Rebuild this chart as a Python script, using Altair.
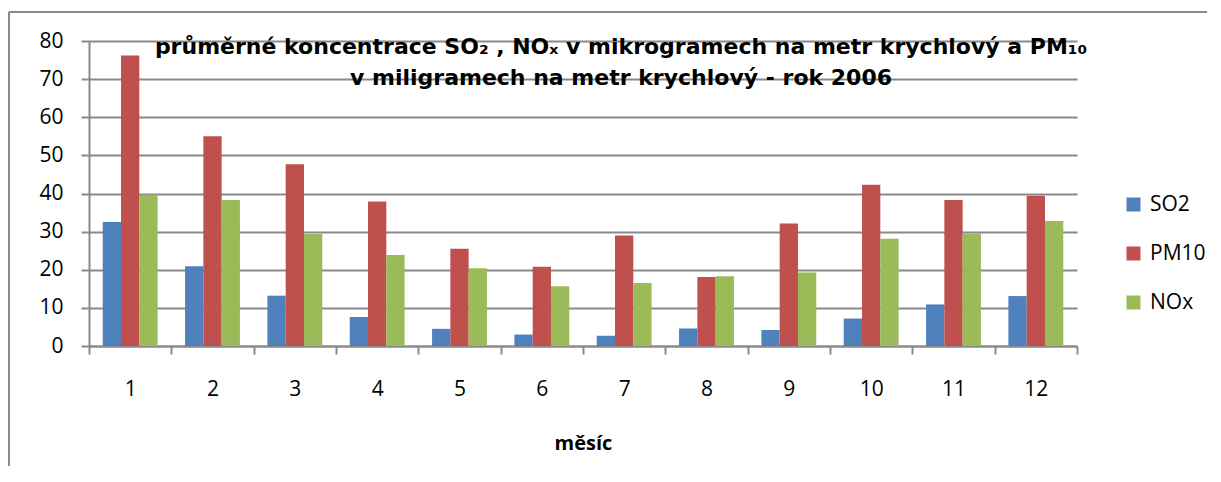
import altair as alt
import pandas as pd

months = [str(m) for m in range(1, 13)]
series = ["SO2", "PM10", "NOx"]
so2 = [32.5, 20.9, 13.2, 7.6, 4.5, 3.0, 2.7, 4.6, 4.2, 7.2, 10.9, 13.1]
pm10 = [76.2, 55.0, 47.7, 37.9, 25.5, 20.8, 29.0, 18.1, 32.1, 42.3, 38.3, 39.4]
nox = [39.7, 38.3, 29.4, 23.9, 20.4, 15.7, 16.5, 18.3, 19.3, 28.1, 29.5, 32.8]
colors = ["#4F81BD", "#C0504D", "#9BBB59"]
y_ticks = [0, 10, 20, 30, 40, 50, 60, 70, 80]
title_lines = "průměrné koncentrace SO₂ , NOₓ v mikrogramech na metr krychlový a PM₁₀\nv miligramech na metr krychlový - rok 2006"
x_title = "měsíc"

rows = []
for name, vals in zip(series, [so2, pm10, nox]):
    for m, v in zip(months, vals):
        rows.append({"mesic": m, "serie": name, "hodnota": v})
df = pd.DataFrame(rows)

GRAY = "#8a8a8a"
LABEL_FONT = "Open Sans"

bars = alt.Chart(df).mark_bar().encode(
    x=alt.X("mesic:N", sort=months,
            scale=alt.Scale(paddingInner=0, paddingOuter=0),
            axis=alt.Axis(title=x_title, labelAngle=0, tickBand="extent",
                          tickSize=8, tickWidth=2, tickColor=GRAY,
                          domainColor=GRAY, domainWidth=2,
                          labelFont=LABEL_FONT, labelFontSize=21, labelColor="black",
                          labelPadding=24, titleFont=LABEL_FONT, titleFontSize=20,
                          titleFontWeight="bold", titleColor="black", titlePadding=34,
                          grid=False)),
    xOffset=alt.XOffset("serie:N", sort=series,
                        scale=alt.Scale(paddingInner=0, paddingOuter=0.75)),
    y=alt.Y("hodnota:Q", scale=alt.Scale(domain=[0, 80], nice=False),
            axis=alt.Axis(title=None, values=y_ticks, tickSize=8, tickWidth=2,
                          tickColor=GRAY, domainColor=GRAY, domainWidth=2,
                          gridColor=GRAY, gridWidth=1.8, grid=True,
                          labelFont=LABEL_FONT, labelFontSize=21, labelColor="black",
                          labelPadding=18)),
    color=alt.Color("serie:N", sort=series,
                    scale=alt.Scale(domain=series, range=colors),
                    legend=alt.Legend(title=None, orient="none", legendX=1034, legendY=153,
                                      symbolType="square", symbolSize=196,
                                      symbolStrokeWidth=0, labelFont=LABEL_FONT,
                                      labelFontSize=21, labelColor="black",
                                      labelOffset=6, rowPadding=27, padding=0)),
)

one = alt.Data(values=[{"f": 1}])
frame_top = alt.Chart(one).mark_rule(color=GRAY, strokeWidth=2).encode(
    x=alt.value(-80), x2=alt.value(1118), y=alt.value(-29)
)
frame_left = alt.Chart(one).mark_rule(color=GRAY, strokeWidth=2).encode(
    x=alt.value(-80), y=alt.value(-29), y2=alt.value(430)
)

title = alt.Chart(one).mark_text(
    font="DejaVu Sans", fontWeight="bold", fontSize=22, lineBreak="\n",
    lineHeight=31, align="center", baseline="alphabetic", color="black"
).encode(
    x=alt.value(532), y=alt.value(13), text=alt.value(title_lines)
)

chart = alt.layer(frame_top, frame_left, bars, title).properties(
    width=988, height=305,
    autosize=alt.AutoSizeParams(type="none"),
    padding={"left": 81, "top": 33, "right": 130, "bottom": 120},
).configure_view(stroke=None)

chart.save("out.html", embed_options={"renderer": "svg", "actions": False})
